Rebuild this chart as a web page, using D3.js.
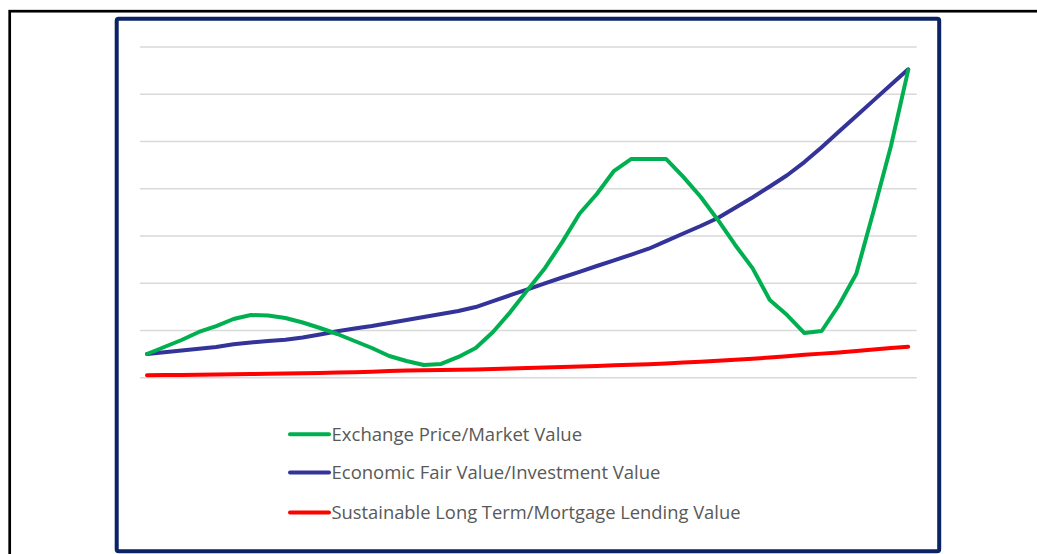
<!DOCTYPE html>
<html>
<head>
<meta charset="utf-8">
<script src="https://cdn.jsdelivr.net/npm/d3@7"></script>
<style>
  html, body { margin: 0; padding: 0; background: #ffffff; }
  svg { display: block; }
</style>
</head>
<body>
<svg id="chart" width="1037" height="554"></svg>
<script>
// ---- data ----
const periods = d3.range(0, 45);
const marketValue = [4.93, 6.41, 7.89, 9.59, 10.85, 12.34, 13.18, 13.08, 12.55, 11.6,
  10.43, 9.16, 7.68, 6.2, 4.5, 3.45, 2.6, 2.82, 4.3, 6.2,
  9.59, 13.8, 18.5, 23.1, 28.6, 34.6, 38.8, 43.7, 46.2, 46.2,
  46.2, 42.4, 38.2, 33.3, 28.0, 23.1, 16.36, 13.18, 9.37, 9.8,
  15.3, 21.9, 35.2, 48.9, 65.0];
const investmentValue = [4.93, 5.29, 5.67, 6.03, 6.41, 7.0, 7.38, 7.68, 7.96, 8.42,
  9.06, 9.75, 10.32, 10.85, 11.49, 12.12, 12.76, 13.39, 14.03, 14.87,
  16.1, 17.37, 18.62, 19.89, 21.12, 22.32, 23.55, 24.76, 25.98, 27.21,
  28.8, 30.43, 32.01, 33.71, 35.89, 38.05, 40.37, 42.76, 45.54, 48.7,
  52.0, 55.3, 58.6, 61.9, 65.17];
const lendingValue = [0.42, 0.47, 0.51, 0.55, 0.59, 0.63, 0.68, 0.74, 0.8, 0.85,
  0.91, 0.99, 1.08, 1.18, 1.31, 1.42, 1.48, 1.54, 1.61, 1.67,
  1.76, 1.86, 1.97, 2.07, 2.18, 2.29, 2.39, 2.54, 2.64, 2.77,
  2.92, 3.11, 3.3, 3.51, 3.72, 3.93, 4.18, 4.46, 4.76, 5.01,
  5.25, 5.57, 5.88, 6.18, 6.47];
const yTicks = [0, 10, 20, 30, 40, 50, 60, 70];
const seriesNames = ["Exchange Price/Market Value", "Economic Fair Value/Investment Value", "Sustainable Long Term/Mortgage Lending Value"];
const seriesColors = ["#00b050", "#333399", "#ff0000"];
const seriesValues = [marketValue, investmentValue, lendingValue];

// ---- drawing ----
const svg = d3.select("#chart");

// outer black frame (only top and left are visible)
svg.append("rect")
  .attr("x", 9.7).attr("y", 11.2)
  .attr("width", 1100).attr("height", 600)
  .attr("fill", "none").attr("stroke", "#000").attr("stroke-width", 2.7);

// navy chart frame
svg.append("rect")
  .attr("x", 116.7).attr("y", 18.8)
  .attr("width", 939.2 - 116.7).attr("height", 551.3 - 18.8)
  .attr("rx", 2).attr("ry", 2)
  .attr("fill", "#fff").attr("stroke", "#0b2265").attr("stroke-width", 4);

const x = d3.scaleLinear().domain([0, 44]).range([147, 908.2]);
const y = d3.scaleLinear().domain([0, 70]).range([377.3, 46.5]);
const gridLeft = 140, gridRight = 916.7;

// gridlines through an axis
const grid = svg.append("g")
  .attr("transform", `translate(${gridLeft},0)`)
  .call(d3.axisLeft(y).tickValues(yTicks).tickSize(-(gridRight - gridLeft)).tickFormat(""));
grid.select(".domain").remove();
grid.selectAll(".tick line").attr("stroke", "#d9d9d9").attr("stroke-width", 1.5);

const line = d3.line()
  .x((d, i) => x(periods[i]))
  .y(d => y(d));

// draw order: red, blue, green on top
[2, 1, 0].forEach(k => {
  svg.append("path")
    .datum(seriesValues[k])
    .attr("d", line)
    .attr("fill", "none")
    .attr("stroke", seriesColors[k])
    .attr("stroke-width", 4)
    .attr("stroke-linejoin", "round")
    .attr("stroke-linecap", "round");
});

// legend
const legendY = [434.3, 472.5, 512.5];
const legendWidths = [250.6, 329, 409];
const lg = svg.append("g");
seriesNames.forEach((name, k) => {
  lg.append("line")
    .attr("x1", 290).attr("x2", 329)
    .attr("y1", legendY[k]).attr("y2", legendY[k])
    .attr("stroke", seriesColors[k]).attr("stroke-width", 4)
    .attr("stroke-linecap", "round");
  lg.append("text")
    .attr("x", 331.5).attr("y", legendY[k])
    .attr("dy", "0.36em")
    .attr("font-family", "'Open Sans', 'Noto Sans', sans-serif")
    .attr("font-size", 18)
    .attr("fill", "#595959")
    .attr("textLength", legendWidths[k])
    .attr("lengthAdjust", "spacingAndGlyphs")
    .text(name);
});
</script>
</body>
</html>
